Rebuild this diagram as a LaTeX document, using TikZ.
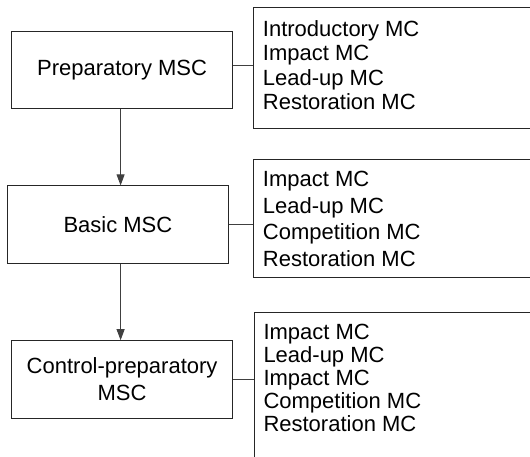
\documentclass[tikz,border=0pt]{standalone}
\usepackage{fontspec}
\setmainfont{Liberation Sans}
\usetikzlibrary{arrows.meta}
\newcommand{\mcbox}[3]{\parbox[c][#1][t]{300pt}{\raggedright\vspace*{#2}#3}}
\tikzset{
  msc/.style={draw=black!85, line width=1pt, minimum width=220.6pt, minimum height=77.4pt,
    inner sep=0pt, align=center, font=\fontsize{22}{27}\selectfont},
  mclist/.style={draw=black!85, line width=1pt, anchor=north west, inner xsep=9pt,
    inner ysep=0pt},
  link/.style={draw=black!75, line width=0.9pt},
  arr/.style={link, -{Triangle[length=11pt,width=8pt]}}
}
\begin{document}
\begin{tikzpicture}[x=1pt,y=-1pt]
\useasboundingbox (0,0) rectangle (530,457);
\clip (0,0) rectangle (530,457);
\fill[white] (0,0) rectangle (530,457);
% left boxes
\node[msc] (b1) at (122.1,70.1) {Preparatory MSC};
\node[msc] (b2) at (117.9,224.6) {Basic MSC};
\node[msc] (b3) at (122.1,379.4) {Control-preparatory\\MSC};
% right lists
\node[mclist, font=\fontsize{22}{24.5}\selectfont] (r1) at (253.4,7.4)
  {\mcbox{120.3pt}{12.5pt}{Introductory MC\\Impact MC\\Lead-up MC\\Restoration MC}};
\node[mclist, font=\fontsize{22}{26.7}\selectfont] (r2) at (253.4,159.5)
  {\mcbox{117.2pt}{11pt}{Impact MC\\Lead-up MC\\Competition MC\\Restoration MC}};
\node[mclist, font=\fontsize{22}{23}\selectfont] (r3) at (254,311.8)
  {\mcbox{200pt}{12pt}{Impact MC\\Lead-up MC\\Impact MC\\Competition MC\\Restoration MC}};
% connectors
\draw[link] ([yshift=4.2pt]b1.east) -- ([yshift=4.2pt]b1.east -| r1.west);
\draw[link] (b2.east) -- (b2.east -| r2.west);
\draw[link] (b3.east) -- (b3.east -| r3.west);
\draw[arr] ([xshift=-1.5pt]b1.south) -- ([xshift=-1.5pt]b1.south |- b2.north);
\draw[arr] ([xshift=-1.5pt]b1.south |- b2.south) -- ([xshift=-1.5pt]b1.south |- b3.north);
\end{tikzpicture}
\end{document}
